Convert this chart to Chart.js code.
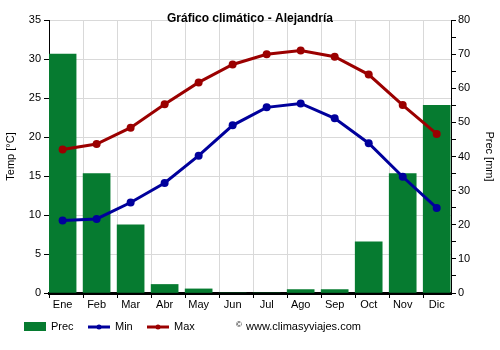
<!DOCTYPE html>
<html>
<head>
<meta charset="utf-8">
<script src="https://cdn.jsdelivr.net/npm/chart.js@4"></script>
<style>
  html, body { margin: 0; padding: 0; background: #fff; }
  #wrap { width: 500px; height: 350px; }
</style>
</head>
<body>
<div id="wrap"><canvas id="climateChart" width="500" height="350"></canvas></div>
<script>
// Alejandria climate data
const months = ['Ene', 'Feb', 'Mar', 'Abr', 'May', 'Jun', 'Jul', 'Ago', 'Sep', 'Oct', 'Nov', 'Dic'];
const prec = [70, 35, 20, 2.5, 1.2, 0, 0, 1, 1, 15, 35, 55];
const tMin = [9.3, 9.5, 11.6, 14.1, 17.6, 21.5, 23.8, 24.3, 22.4, 19.2, 14.9, 10.9];
const tMax = [18.4, 19.1, 21.2, 24.2, 27.0, 29.3, 30.6, 31.1, 30.3, 28.0, 24.1, 20.4];
const tempTicks = [0, 5, 10, 15, 20, 25, 30, 35];
const precTicks = [0, 10, 20, 30, 40, 50, 60, 70, 80];

const GREEN = '#067b30';
const BLUE = '#00009c';
const RED = '#9b0000';
const FONT = 'Liberation Sans, Arial, sans-serif';

// bars sit left of each month slot, so the x axis is linear
const xMin = -0.4;
const xMax = 11.42;

const toPoints = arr => arr.map((v, i) => ({ x: i, y: v }));

// title, legend and copyright drawn by hand
const extras = {
    id: 'extras',
    afterDraw(chart) {
        const ctx = chart.ctx;
        ctx.save();
        ctx.fillStyle = '#000';
        ctx.font = 'bold 12px ' + FONT;
        ctx.textAlign = 'center';
        ctx.textBaseline = 'alphabetic';
        ctx.fillText('Gráfico climático - Alejandría', 250, 21.5);

        ctx.font = '11px ' + FONT;
        ctx.textAlign = 'left';
        ctx.textBaseline = 'middle';
        const ly = 327;

        ctx.fillStyle = GREEN;
        ctx.fillRect(24, 322, 22, 9);
        ctx.fillStyle = '#000';
        ctx.fillText('Prec', 51, ly);

        [[88, BLUE, 'Min'], [147, RED, 'Max']].forEach(([x, col, txt]) => {
            ctx.strokeStyle = col;
            ctx.lineWidth = 3;
            ctx.beginPath();
            ctx.moveTo(x, ly);
            ctx.lineTo(x + 22, ly);
            ctx.stroke();
            ctx.fillStyle = col;
            ctx.beginPath();
            ctx.arc(x + 11, ly, 2.5, 0, Math.PI * 2);
            ctx.fill();
            ctx.fillStyle = '#000';
            ctx.fillText(txt, x + 27, ly);
        });

        ctx.font = '8px ' + FONT;
        ctx.fillText('©', 236, ly - 2);
        ctx.font = '11px ' + FONT;
        ctx.fillText('www.climasyviajes.com', 246, ly);
        ctx.restore();
    }
};

new Chart(document.getElementById('climateChart'), {
    type: 'bar',
    data: {
        datasets: [
            {
                type: 'line',
                label: 'Max',
                data: toPoints(tMax),
                borderColor: RED,
                backgroundColor: RED,
                borderWidth: 3,
                pointRadius: 4,
                pointHoverRadius: 4,
                pointBorderWidth: 0,
                yAxisID: 'y',
                order: 0
            },
            {
                type: 'line',
                label: 'Min',
                data: toPoints(tMin),
                borderColor: BLUE,
                backgroundColor: BLUE,
                borderWidth: 3,
                pointRadius: 4,
                pointHoverRadius: 4,
                pointBorderWidth: 0,
                yAxisID: 'y',
                order: 1
            },
            {
                label: 'Prec',
                data: toPoints(prec),
                backgroundColor: GREEN,
                barThickness: 27,
                yAxisID: 'y1',
                order: 2
            }
        ]
    },
    options: {
        responsive: false,
        animation: false,
        events: [],
        layout: { padding: { top: 20, left: 0, right: 0, bottom: 0 } },
        plugins: {
            legend: { display: false },
            title: { display: false },
            tooltip: { enabled: false }
        },
        scales: {
            x: {
                type: 'linear',
                offset: false,
                min: xMin,
                max: xMax,
                afterBuildTicks: scale => {
                    scale.ticks = months.map((m, i) => ({ value: i + xMin }));
                },
                afterFit: scale => { scale.height = 57; },
                ticks: {
                    autoSkip: false,
                    maxRotation: 0,
                    padding: 0,
                    labelOffset: 13.6,
                    color: '#000',
                    font: { family: FONT, size: 11 },
                    callback: (v, i) => months[i]
                },
                grid: { offset: false, color: '#d9d9d9', tickColor: '#000', tickLength: 5 },
                border: { color: '#000', width: 3 }
            },
            y: {
                position: 'left',
                min: 0,
                max: 35,
                afterBuildTicks: scale => {
                    scale.ticks = tempTicks.map(v => ({ value: v }));
                },
                afterFit: scale => { scale.width = 49; },
                ticks: {
                    padding: 3,
                    color: '#000',
                    font: { family: FONT, size: 11 }
                },
                grid: { color: '#d9d9d9', tickColor: '#000', tickLength: 5 },
                border: { color: '#000', width: 1 },
                title: {
                    display: true,
                    text: 'Temp [°C]',
                    color: '#000',
                    font: { family: FONT, size: 11 },
                    padding: { top: 4, bottom: 4 }
                }
            },
            y1: {
                position: 'right',
                min: 0,
                max: 80,
                ticks: {
                    stepSize: 5,
                    padding: 2,
                    color: '#000',
                    font: { family: FONT, size: 11 },
                    callback: v => (precTicks.includes(v) ? v : '')
                },
                afterFit: scale => { scale.width = 49; },
                grid: { drawOnChartArea: false, tickColor: '#000', tickLength: 5 },
                border: { color: '#000', width: 1 },
                title: {
                    display: true,
                    text: 'Prec [mm]',
                    color: '#000',
                    font: { family: FONT, size: 11 },
                    padding: { top: 4, bottom: 4 }
                }
            }
        }
    },
    plugins: [extras]
});
</script>
</body>
</html>
